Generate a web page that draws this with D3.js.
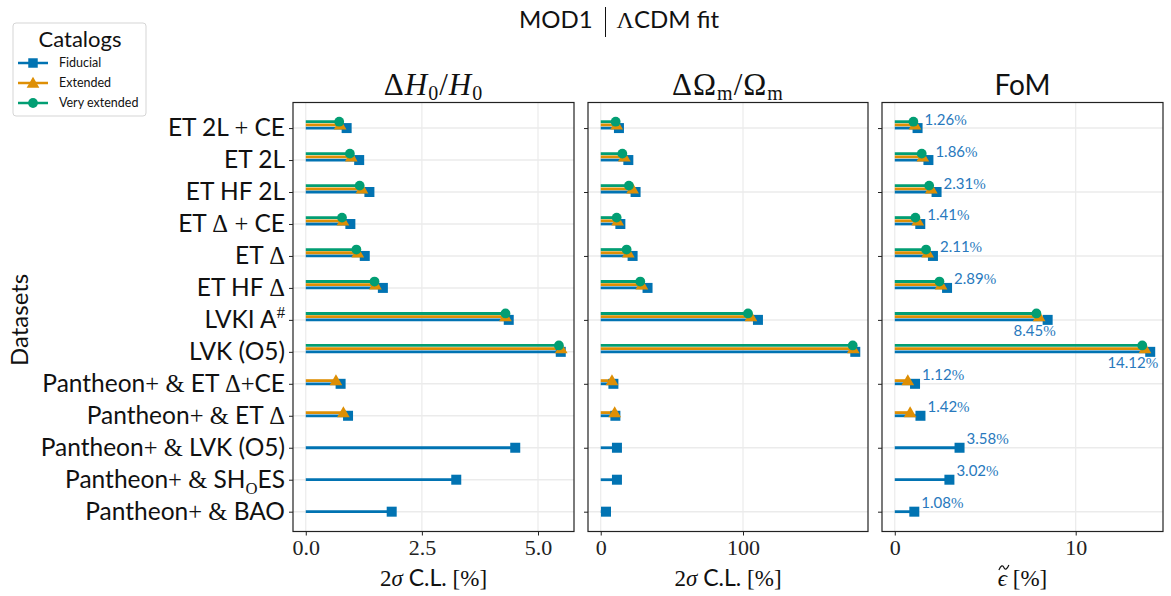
<!DOCTYPE html>
<html>
<head>
<meta charset="utf-8">
<script src="https://cdn.jsdelivr.net/npm/d3@7"></script>
<style>
  body { margin: 0; background: #fff; }
</style>
</head>
<body>
<svg></svg>
<script>
// Данные
const datasets = ["ET 2L + CE", "ET 2L", "ET HF 2L", "ET Δ + CE", "ET Δ", "ET HF Δ", "LVKI A^#",
    "LVK (O5)", "Pantheon+ & ET Δ+CE", "Pantheon+ & ET Δ", "Pantheon+ & LVK (O5)",
    "Pantheon+ & SH_OES", "Pantheon+ & BAO"];
const catalogs = ["Fiducial", "Extended", "Very extended"];

const h0Fiducial = [0.88, 1.15, 1.37, 0.96, 1.27, 1.66, 4.37, 5.49, 0.75, 0.91, 4.51, 3.24, 1.85];
const h0Extended = [0.74, 0.98, 1.21, 0.80, 1.12, 1.50, 4.30, 5.50, 0.65, 0.81, null, null, null];
const h0VeryExtended = [0.72, 0.95, 1.16, 0.78, 1.09, 1.48, 4.30, 5.45, null, null, null, null, null];

const omFiducial = [12.8, 19.4, 24.5, 13.8, 22.4, 32.9, 110.5, 178.9, 8.9, 10.3, 11.4, 11.4, 3.7];
const omExtended = [11.2, 16.6, 22.4, 11.9, 19.4, 28.9, 105.6, 177.5, 7.9, 9.8, null, null, null];
const omVeryExtended = [10.5, 15.2, 19.8, 11.2, 18.2, 27.8, 103.5, 177.1, null, null, null, null, null];

const fomFiducial = [1.26, 1.86, 2.31, 1.41, 2.11, 2.89, 8.45, 14.12, 1.12, 1.42, 3.58, 3.02, 1.08];
const fomExtended = [1.12, 1.55, 2.02, 1.27, 1.82, 2.56, 7.98, 13.83, 0.72, 0.85, null, null, null];
const fomVeryExtended = [1.03, 1.49, 1.90, 1.14, 1.73, 2.47, 7.83, 13.68, null, null, null, null, null];

const h0Ticks = [0, 2.5, 5];
const omTicks = [0, 100];
const fomTicks = [0, 10];

const width = 1171;
const height = 596;
const SANS = "Lato, 'Open Sans', sans-serif";
const SERIF = "'Liberation Serif', 'DejaVu Serif', serif";
const colors = ["#0173b2", "#de8f05", "#029e73"];
const offsets = [0, -0.1, -0.2]; // смещение линий каталогов внутри строки

const svg = d3.select("svg")
    .attr("width", width)
    .attr("height", height)
    .style("font-family", SANS);

// Текст с "математическими" символами: + & Δ # Λ рисуем засечным шрифтом
function richText(sel, str, size) {
    const mathChars = "+&Δ#Λ";
    let i = 0;
    let backDy = 0; // возврат на базовую линию после индекса
    while (i < str.length) {
        const ch = str[i];
        if (ch === "^" || ch === "_") {
            const up = ch === "^" ? -0.42 * size : 0.25 * size;
            sel.append("tspan").attr("font-family", SERIF).attr("font-size", size * 0.68)
                .attr("dy", up + backDy).text(str[i + 1]);
            backDy = -up;
            i += 2;
            continue;
        }
        let j = i;
        const isMath = mathChars.includes(ch);
        while (j < str.length && str[j] !== "^" && str[j] !== "_" && mathChars.includes(str[j]) === isMath) j++;
        const t = sel.append("tspan").attr("font-family", isMath ? SERIF : SANS).text(str.slice(i, j));
        if (backDy) { t.attr("dy", backDy); backDy = 0; }
        i = j;
    }
}

// Общий масштаб по строкам
const y = d3.scaleLinear().domain([-0.8, 12.62]).range([102.5, 531.5]);

const panels = [
    { x0: 293, x1: 574, series: [h0Fiducial, h0Extended, h0VeryExtended], ticks: h0Ticks, fmt: d3.format(".1f"),
      title: "h0", xlabel: "cl", yEvery: 1, labels: true },
    { x0: 588, x1: 868, series: [omFiducial, omExtended, omVeryExtended], ticks: omTicks, fmt: d3.format("d"),
      title: "om", xlabel: "cl", yEvery: 2, labels: false },
    { x0: 882, x1: 1163, series: [fomFiducial, fomExtended, fomVeryExtended], ticks: fomTicks, fmt: d3.format("d"),
      title: "fom", xlabel: "eps", yEvery: 2, labels: false, annotate: true }
];

panels.forEach(p => {
    const maxV = d3.max(p.series.flat());
    const x = d3.scaleLinear().domain([-0.05 * maxV, 1.05 * maxV]).range([p.x0, p.x1]);
    const g = svg.append("g");
    const yTicks = d3.range(0, datasets.length, p.yEvery);

    // сетка
    g.selectAll(".gx").data(p.ticks).join("line")
        .attr("x1", d => x(d)).attr("x2", d => x(d))
        .attr("y1", y.range()[0]).attr("y2", y.range()[1])
        .attr("stroke", "#ebebeb").attr("stroke-width", 1.2);
    g.selectAll(".gy").data(yTicks).join("line")
        .attr("x1", p.x0).attr("x2", p.x1)
        .attr("y1", d => y(d)).attr("y2", d => y(d))
        .attr("stroke", "#ebebeb").attr("stroke-width", 1.5);

    // линии и маркеры
    p.series.forEach((vals, k) => {
        const pts = vals.map((v, i) => ({ v, i })).filter(d => d.v !== null);
        g.selectAll(null).data(pts).join("line")
            .attr("x1", x(0)).attr("x2", d => x(d.v))
            .attr("y1", d => y(d.i + offsets[k])).attr("y2", d => y(d.i + offsets[k]))
            .attr("stroke", colors[k]).attr("stroke-width", 2.8);
    });
    p.series.forEach((vals, k) => {
        const pts = vals.map((v, i) => ({ v, i })).filter(d => d.v !== null);
        const sym = [d3.symbolSquare, d3.symbolTriangle, d3.symbolCircle][k];
        const size = [100, 70, 75][k];
        g.selectAll(null).data(pts).join("path")
            .attr("d", d3.symbol(sym, size))
            .attr("transform", d => `translate(${x(d.v)},${y(d.i + offsets[k]) + (k === 1 ? 1 : 0)})`)
            .attr("fill", colors[k]);
    });

    // подписи FoM
    if (p.annotate) {
        g.selectAll(".ann").data(p.series[0]).join("text")
            .attr("x", d => d > 8 ? x(d) + 8 : x(d) + 7)
            .attr("y", (d, i) => d > 8 ? y(i) + 16.5 : y(i) - 3.5)
            .attr("text-anchor", d => d > 8 ? "end" : "start")
            .attr("font-size", 15).attr("fill", "#2879bd")
            .each(function(d) {
                const t = d3.select(this);
                t.append("tspan").attr("font-family", SANS).text(d.toFixed(2));
                t.append("tspan").attr("font-family", SERIF).text("%");
            });
    }

    // рамка
    g.append("rect").attr("x", p.x0).attr("y", y.range()[0])
        .attr("width", p.x1 - p.x0).attr("height", y.range()[1] - y.range()[0])
        .attr("fill", "none").attr("stroke", "#222").attr("stroke-width", 1.2);

    // ось X
    const xAxis = g.append("g").attr("transform", `translate(0,${y.range()[1]})`)
        .call(d3.axisBottom(x).tickValues(p.ticks).tickFormat(p.fmt).tickSize(4).tickPadding(4));
    xAxis.select(".domain").remove();
    xAxis.selectAll("line").attr("stroke", "#222");
    xAxis.selectAll("text").attr("font-family", SERIF).attr("font-size", 22).attr("fill", "#222");

    // ось Y
    const yAxis = g.append("g").attr("transform", `translate(${p.x0},0)`)
        .call(d3.axisLeft(y).tickValues(yTicks).tickSize(4).tickPadding(4)
            .tickFormat(p.labels ? (d => datasets[d]) : ""));
    yAxis.select(".domain").remove();
    yAxis.selectAll("line").attr("stroke", "#222");
    if (p.labels) {
        yAxis.selectAll("text").attr("font-size", 24.5).attr("fill", "#111")
            .each(function(d) {
                const t = d3.select(this).text(null);
                richText(t, datasets[d], 24.5);
            });
    }

    // заголовок панели
    const cx = (p.x0 + p.x1) / 2;
    const tt = svg.append("text").attr("x", cx).attr("y", 95).attr("text-anchor", "middle")
        .attr("font-size", 31).attr("fill", "#111");
    if (p.title === "h0") {
        tt.attr("font-family", SERIF).attr("letter-spacing", 1);
        tt.append("tspan").text("Δ");
        tt.append("tspan").attr("font-style", "italic").text("H");
        tt.append("tspan").attr("font-size", 20).attr("dy", 5).text("0");
        tt.append("tspan").attr("dy", -5).text("/");
        tt.append("tspan").attr("font-style", "italic").text("H");
        tt.append("tspan").attr("font-size", 20).attr("dy", 5).text("0");
    } else if (p.title === "om") {
        tt.attr("font-family", SERIF).attr("letter-spacing", 1);
        tt.append("tspan").text("ΔΩ");
        tt.append("tspan").attr("font-size", 20).attr("dy", 5).text("m");
        tt.append("tspan").attr("dy", -5).text("/Ω");
        tt.append("tspan").attr("font-size", 20).attr("dy", 5).text("m");
    } else {
        tt.attr("font-size", 28).text("FoM");
    }

    // подпись оси X
    const xl = svg.append("text").attr("x", cx).attr("y", 586).attr("text-anchor", "middle")
        .attr("font-size", 23).attr("fill", "#111");
    if (p.xlabel === "cl") {
        xl.append("tspan").attr("font-family", SERIF).text("2");
        xl.append("tspan").attr("font-family", SERIF).attr("font-style", "italic").text("σ");
        xl.append("tspan").text(" C.L. ");
        xl.append("tspan").attr("font-family", SERIF).text("[%]");
    } else {
        xl.attr("font-family", SERIF);
        xl.append("tspan").attr("font-style", "italic").text("ϵ");
        xl.append("tspan").text(" [%]");
        // тильда над эпсилоном рисуется кривой
        const node = xl.node();
        const s = node.getStartPositionOfChar(0).x;
        const e = node.getEndPositionOfChar(0).x;
        const m = (s + e) / 2 + 1.5;
        svg.append("path")
            .attr("d", `M${m - 5},570 C${m - 3},565 ${m - 1},565 ${m},567.5 C${m + 1},570 ${m + 3},570 ${m + 5},565`)
            .attr("fill", "none").attr("stroke", "#111").attr("stroke-width", 1.2);
    }
});

// подпись оси Y
svg.append("text").attr("transform", `translate(28,${y(6)}) rotate(-90)`)
    .attr("text-anchor", "middle").attr("font-size", 24).attr("fill", "#111").text("Datasets");

// общий заголовок
const title = svg.append("text").attr("x", 619).attr("y", 28).attr("text-anchor", "middle")
    .attr("font-size", 24).attr("fill", "#111");
title.append("tspan").text("MOD1\u2002");
title.append("tspan").attr("font-family", SERIF).text("\u2002Λ");
title.append("tspan").text("CDM fit");
{
    const node = title.node();
    const s = node.getStartPositionOfChar(4).x;
    const e = node.getEndPositionOfChar(5).x;
    const mx = Math.round((s + e) / 2) + 0.5;
    svg.append("line").attr("x1", mx).attr("x2", mx).attr("y1", 7).attr("y2", 37)
        .attr("stroke", "#111").attr("stroke-width", 1);
}

// легенда
const leg = svg.append("g").attr("transform", "translate(13,23)");
leg.append("rect").attr("width", 133).attr("height", 93).attr("rx", 3)
    .attr("fill", "#fff").attr("stroke", "#d5d5d5");
leg.append("text").attr("x", 67).attr("y", 24).attr("text-anchor", "middle")
    .attr("font-size", 22).attr("fill", "#111").text("Catalogs");
catalogs.forEach((c, k) => {
    const row = leg.append("g").attr("transform", `translate(0,${40 + k * 20})`);
    row.append("line").attr("x1", 5).attr("x2", 35).attr("stroke", colors[k]).attr("stroke-width", 2.5);
    row.append("path").attr("d", d3.symbol([d3.symbolSquare, d3.symbolTriangle, d3.symbolCircle][k], [90, 70, 75][k]))
        .attr("transform", `translate(20,${k === 1 ? 1 : 0})`).attr("fill", colors[k]);
    row.append("text").attr("x", 46).attr("y", 4).attr("font-size", 12.5).attr("fill", "#111").text(c);
});
</script>
</body>
</html>
